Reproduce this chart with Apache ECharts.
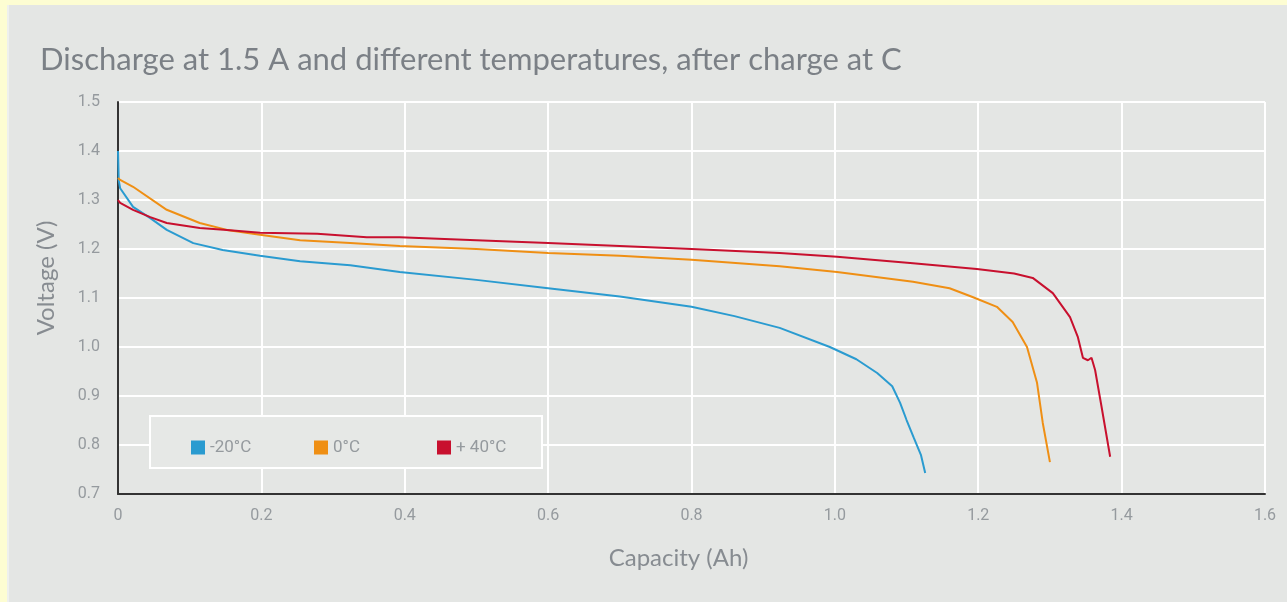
<!DOCTYPE html>
<html>
<head>
<meta charset="utf-8">
<script src="https://cdn.jsdelivr.net/npm/echarts@6/dist/echarts.min.js"></script>
<style>
  html, body { margin: 0; padding: 0; background: #fdfdd2; }
  #frame { position: absolute; left: 7px; top: 5px; right: 0; bottom: 0; background: #e4e6e4; border-left: 2px solid #eef0ee; }
  #chart { position: absolute; left: -9px; top: -5px; width: 1287px; height: 602px; }
</style>
</head>
<body>
<div id="frame"><div id="chart"></div></div>
<script>
// Discharge curves: capacity (Ah) vs. voltage (V) per temperature
const capMinus20 = [0, 0.001, 0.003, 0.021, 0.045, 0.068, 0.105, 0.146, 0.198, 0.254, 0.324, 0.393, 0.5, 0.6, 0.7, 0.8, 0.86, 0.923, 0.993, 1.03, 1.059, 1.08, 1.091, 1.1, 1.11, 1.12, 1.126];
const voltMinus20 = [1.40, 1.34, 1.324, 1.286, 1.263, 1.239, 1.212, 1.198, 1.186, 1.175, 1.167, 1.153, 1.137, 1.12, 1.103, 1.082, 1.063, 1.039, 1.0, 0.975, 0.947, 0.92, 0.886, 0.851, 0.815, 0.78, 0.743];

const capZero = [0, 0.003, 0.021, 0.068, 0.114, 0.152, 0.198, 0.254, 0.324, 0.393, 0.5, 0.6, 0.7, 0.8, 0.923, 1.003, 1.109, 1.16, 1.192, 1.226, 1.248, 1.268, 1.282, 1.29, 1.3];
const voltZero = [1.345, 1.341, 1.327, 1.280, 1.253, 1.239, 1.229, 1.218, 1.212, 1.206, 1.200, 1.192, 1.186, 1.178, 1.165, 1.153, 1.133, 1.12, 1.102, 1.082, 1.051, 1.0, 0.927, 0.845, 0.765];

const capPlus40 = [0, 0.003, 0.021, 0.045, 0.068, 0.114, 0.152, 0.198, 0.278, 0.347, 0.393, 0.5, 0.6, 0.7, 0.8, 0.923, 1.003, 1.109, 1.198, 1.25, 1.276, 1.304, 1.328, 1.339, 1.346, 1.353, 1.358, 1.363, 1.372, 1.384];
const voltPlus40 = [1.30, 1.294, 1.280, 1.265, 1.253, 1.243, 1.239, 1.233, 1.231, 1.224, 1.224, 1.218, 1.212, 1.206, 1.200, 1.192, 1.184, 1.171, 1.159, 1.150, 1.141, 1.110, 1.061, 1.020, 0.978, 0.973, 0.978, 0.953, 0.878, 0.776];

const seriesNames = ['-20°C', '0°C', '+ 40°C'];
const seriesColors = ['#2a9bd0', '#ef8f14', '#c8102e'];
const legendLefts = [186, 309, 432];

const pairs = (xs, ys) => xs.map((x, i) => [x, ys[i]]);
const curves = [
  pairs(capMinus20, voltMinus20),
  pairs(capZero, voltZero),
  pairs(capPlus40, voltPlus40)
];

const chart = echarts.init(document.getElementById('chart'), null, { renderer: 'canvas' });
const tickFont = 'Roboto, "DejaVu Sans", sans-serif';
const textFont = 'Lato, "Noto Sans", sans-serif';
const tickColor = '#959a9e';

chart.setOption({
  backgroundColor: 'transparent',
  animation: false,
  title: {
    text: 'Discharge at 1.5 A and different temperatures, after charge at C',
    left: 35,
    top: 39,
    textStyle: { fontFamily: textFont, fontWeight: 'normal', fontSize: 31, color: '#7b8086' }
  },
  grid: { left: 118, right: 22, top: 102, bottom: 108, containLabel: false },
  xAxis: {
    type: 'value',
    min: 0, max: 1.6, interval: 0.2,
    name: 'Capacity (Ah)',
    nameLocation: 'middle',
    nameGap: 52,
    nameTextStyle: { fontFamily: textFont, fontSize: 24, color: '#878c91', verticalAlign: 'top', padding: [0, 26, 0, 0] },
    axisLine: { lineStyle: { color: '#333', width: 2 } },
    axisTick: { show: false },
    axisLabel: {
      margin: 14, fontFamily: tickFont, fontSize: 16, color: tickColor,
      formatter: v => (v === 0 ? '0' : v.toFixed(1))
    },
    splitLine: { show: true, lineStyle: { color: '#ffffff', width: 2 } }
  },
  yAxis: {
    type: 'value',
    min: 0.7, max: 1.5, interval: 0.1,
    name: 'Voltage (V)',
    nameLocation: 'middle',
    nameGap: 60,
    nameRotate: 90,
    nameTextStyle: { fontFamily: textFont, fontSize: 24, color: '#878c91', padding: [0, 0, 0, 40] },
    axisLine: { show: true, lineStyle: { color: '#333', width: 2 } },
    axisTick: { show: false },
    axisLabel: {
      margin: 18, fontFamily: tickFont, fontSize: 16, color: tickColor,
      formatter: v => v.toFixed(1)
    },
    splitLine: { show: true, lineStyle: { color: '#ffffff', width: 2 } }
  },
  graphic: [{
    type: 'rect',
    left: 149, top: 415, z: 1,
    shape: { width: 392, height: 52 },
    style: { fill: '#e6e8e6', stroke: '#ffffff', lineWidth: 2 }
  }],
  legend: seriesNames.map((name, i) => ({
    left: legendLefts[i], top: 434, z: 5,
    icon: 'rect', itemWidth: 14, itemHeight: 14,
    data: [name],
    textStyle: { fontFamily: tickFont, fontSize: 17, color: tickColor }
  })),
  series: curves.map((d, i) => ({
    name: seriesNames[i],
    type: 'line',
    data: d,
    showSymbol: false,
    smooth: false,
    color: seriesColors[i],
    lineStyle: { width: 2, color: seriesColors[i] },
    z: 3
  }))
});
</script>
</body>
</html>
